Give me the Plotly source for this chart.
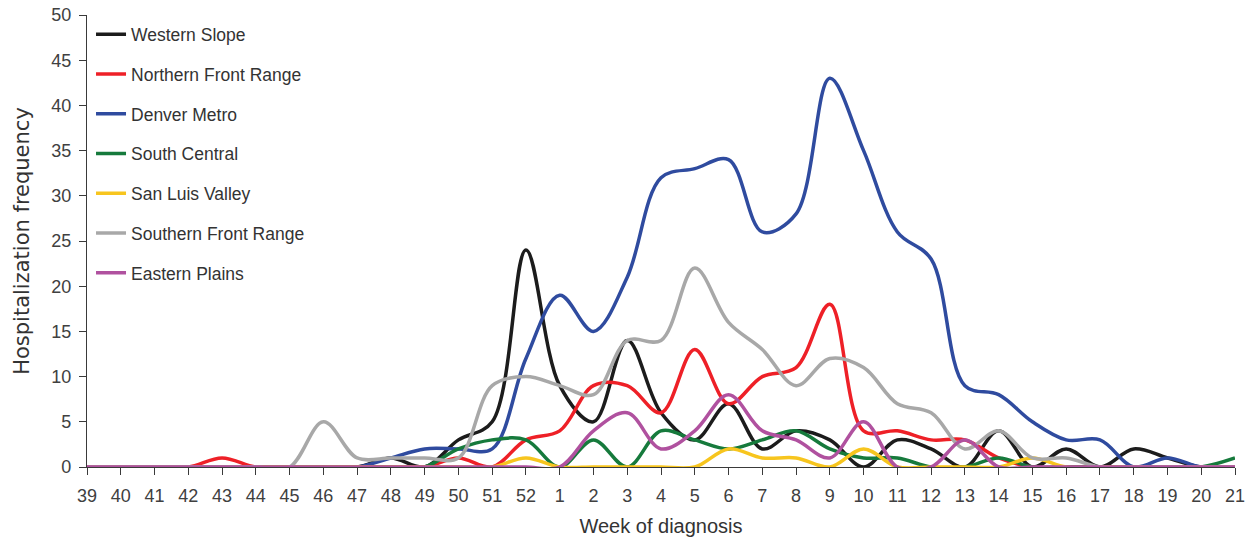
import plotly.graph_objects as go

weeks = [str(w) for w in range(39, 53)] + [str(w) for w in range(1, 22)]

western_slope        = [0,0,0,0,0,0,0,0,0,1,0,3,5,24,9,5,14,6,3,7,2,4,3,0,3,2,0,4,0,2,0,2,1,0,0]
northern_front_range = [0,0,0,0,1,0,0,0,0,0,0,1,0,3,4,9,9,6,13,7,10,11,18,4,4,3,3,1,0,0,0,0,0,0,0]
denver_metro         = [0,0,0,0,0,0,0,0,0,1,2,2,2,12,19,15,21,32,33,34,26,28,43,35,26,23,9,8,5,3,3,0,1,0,0]
south_central        = [0,0,0,0,0,0,0,0,0,0,0,2,3,3,0,3,0,4,3,2,3,4,2,1,1,0,0,1,0,0,0,0,0,0,1]
san_luis_valley      = [0,0,0,0,0,0,0,0,0,0,0,0,0,1,0,0,0,0,0,2,1,1,0,2,0,0,0,0,1,0,0,0,0,0,0]
southern_front_range = [0,0,0,0,0,0,0,5,1,1,1,1,9,10,9,8,14,14,22,16,13,9,12,11,7,6,2,4,1,1,0,0,0,0,0]
eastern_plains       = [0,0,0,0,0,0,0,0,0,0,0,0,0,0,0,4,6,2,4,8,4,3,1,5,0,0,3,0,0,0,0,0,0,0,0]

series_names = ["Western Slope", "Northern Front Range", "Denver Metro", "South Central",
                "San Luis Valley", "Southern Front Range", "Eastern Plains"]
series_values = [western_slope, northern_front_range, denver_metro, south_central,
                 san_luis_valley, southern_front_range, eastern_plains]
colors = ["#1c1c1c", "#ee2027", "#2f4b9f", "#167a3c", "#f7c51e", "#a8a8a8", "#b0519f"]

fig = go.Figure()
for name, vals, col in zip(series_names, series_values, colors):
    fig.add_trace(go.Scatter(
        x=weeks, y=vals, name=name, mode="lines",
        line=dict(color=col, width=3.5, shape="spline", smoothing=1.0),
        legendgroup=name,
    ))

axis_color = "#3a3a3a"
text_color = "#404040"

fig.update_layout(
    width=1255, height=546,
    margin=dict(l=87, r=20, t=15, b=79, autoexpand=False),
    paper_bgcolor="white", plot_bgcolor="white",
    font=dict(family="Liberation Sans, Arial, sans-serif", color=text_color),
    showlegend=True,
    legend=dict(
        x=0.0035, y=0.997, xanchor="left", yanchor="top",
        font=dict(size=17.5, family="Liberation Sans, Arial, sans-serif", color="#333333"),
        bgcolor="rgba(0,0,0,0)", tracegroupgap=14,
    ),
    xaxis=dict(
        type="category", categoryorder="array", categoryarray=weeks,
        range=[0, len(weeks) - 1], automargin=False,
        showgrid=False, zeroline=False,
        showline=True, linecolor=axis_color, linewidth=1.2,
        ticks="outside", ticklen=7, tickcolor=axis_color, tickwidth=1,
        ticklabelstandoff=5, ticklabeloverflow="allow",
        tickfont=dict(size=18, family="Liberation Sans, Arial", color=text_color),
        title=dict(text="Week of diagnosis", standoff=14,
                   font=dict(size=20, family="Liberation Sans, Arial, sans-serif", color="#333333")),
    ),
    yaxis=dict(
        range=[0, 50], dtick=5, tick0=0, automargin=False,
        showgrid=False, zeroline=False,
        showline=True, linecolor=axis_color, linewidth=1.2,
        ticks="outside", ticklen=7, tickcolor=axis_color, tickwidth=1,
        ticklabelstandoff=4, ticklabeloverflow="allow",
        tickfont=dict(size=18, color=text_color),
        title=dict(text="Hospitalization frequency", standoff=15,
                   font=dict(size=21, family="DejaVu Sans, Liberation Sans, Arial", color="#333333")),
    ),
)

# remove the page's default 8px body margin so the figure fills the window exactly
fig.write_html("out.html", config={"displayModeBar": False},
               post_script="document.body.style.margin='0';")
